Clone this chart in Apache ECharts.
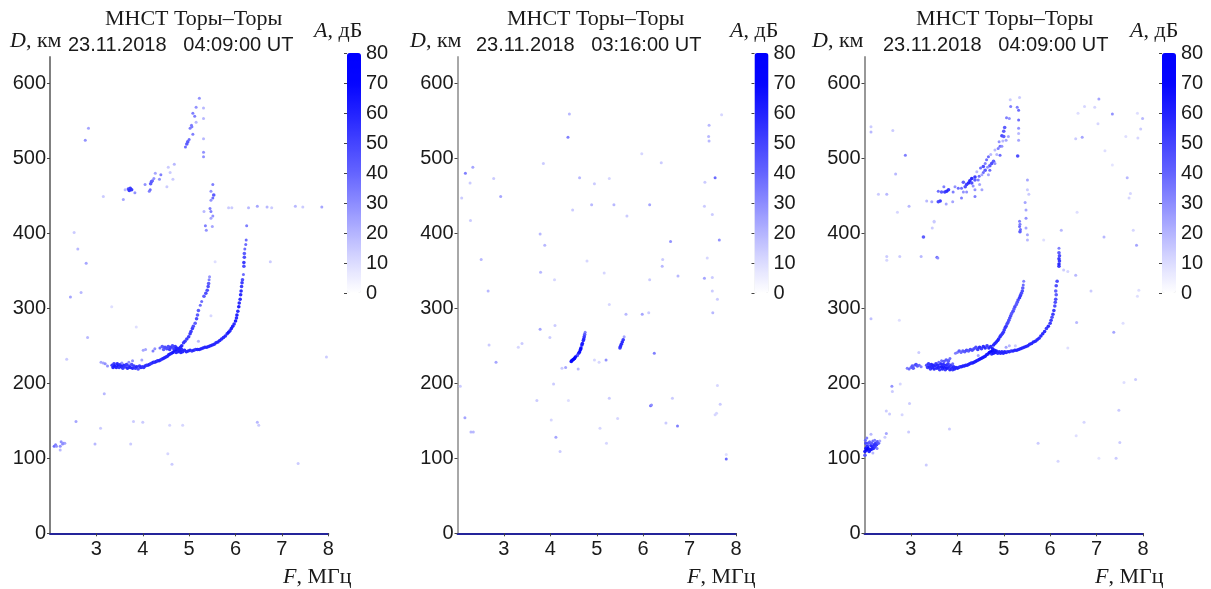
<!DOCTYPE html>
<html><head><meta charset="utf-8">
<style>html,body{margin:0;padding:0;background:#fff}#c{width:1203px;height:589px;overflow:hidden;filter:blur(0.55px)}</style>
<script src="https://cdn.jsdelivr.net/npm/echarts@6/dist/echarts.min.js"></script>
</head><body><div id="c"></div>
<script>
// Each point is [F (MHz), D (km), A (dB)].
var p1MainTrace=[[3.10,228,25],[3.15,227,25],[3.19,226,30],[3.24,223,30],[3.34,224,55],[3.36,221,60],[3.38,226,55],[3.40,223,65],[3.43,221,60],[3.45,226,60],[3.47,223,65],[3.49,221,55],[3.52,225,60],[3.54,222,60],[3.57,220,55],[3.59,224,60],[3.62,222,55],[3.65,225,55],[3.67,220,60],[3.70,223,55],[3.73,221,60],[3.76,225,50],[3.78,220,60],[3.81,223,55],[3.84,220,55],[3.87,222,60],[3.90,219,50],[3.93,223,55],[3.96,221,60],[3.99,222,55],[4.02,221,55],[4.05,223,60],[4.08,224,55],[4.11,224,55],[4.14,225,60],[4.17,226,55],[4.20,227,55],[4.23,228,60],[4.26,228,55],[4.29,229,60],[4.32,230,55],[4.35,230,60],[4.38,231,60],[4.41,232,55],[4.44,233,60],[4.47,234,60],[4.50,235,60],[4.53,236,60],[4.56,238,60],[4.59,239,65],[4.62,240,60],[4.65,241,65],[4.68,243,65],[4.70,244,65],[4.72,241,60],[4.74,245,65],[4.76,242,60],[4.78,246,65],[4.80,243,65],[4.82,241,60],[4.84,245,60],[4.86,242,60],[4.90,244,60],[4.94,242,60],[4.98,243,60],[5.02,244,60],[5.06,243,55],[5.10,244,60],[5.14,245,55],[5.18,245,60],[5.22,245,60],[5.26,246,60],[5.30,247,60],[5.34,248,60],[5.38,248,60],[5.42,249,60],[5.46,250,60],[5.50,251,60],[5.54,252,60],[5.58,254,60],[5.62,255,60],[5.66,257,60],[5.70,259,60],[5.74,261,60],[5.78,263,60],[5.82,266,60],[5.85,268,65],[5.88,270,60],[5.91,273,65],[5.94,276,65],[5.97,279,60],[6.00,283,65],[6.02,287,60],[6.03,291,65],[6.05,296,60],[6.07,302,65],[6.08,307,60],[6.10,312,60],[6.11,318,60],[6.12,323,60],[6.13,329,55],[6.14,334,55],[6.15,338,50],[6.17,345,40],[6.18,356,50],[6.18,361,55],[6.19,368,50],[6.19,373,45],[6.20,379,40],[6.22,385,40],[6.23,391,40],[6.24,410,35]];
var p1LeftTrace=[[4.77,245,60],[4.81,248,60],[4.84,250,60],[4.88,254,55],[4.91,256,55],[4.95,259,55],[4.99,262,55],[5.02,266,55],[5.04,269,55],[5.07,273,55],[5.09,276,50],[5.13,280,45],[5.16,286,50],[5.18,291,45],[5.20,297,45],[5.24,304,40],[5.27,309,40],[5.32,316,45],[5.36,320,50],[5.39,324,50],[5.41,329,50],[5.42,333,45],[5.43,338,35],[5.44,342,30]];
var p1UpperTrace=[[4.01,244,25],[4.06,245,25],[4.22,243,35],[4.26,246,30],[4.37,247,40],[4.42,249,45],[4.45,245,45],[4.48,248,50],[4.52,246,50],[4.55,249,50],[4.58,245,55],[4.61,248,55],[4.64,250,50],[4.67,246,55],[4.70,249,55],[4.73,247,60],[3.55,227,30],[3.70,228,30],[3.78,230,30],[3.98,231,25],[5.20,256,20]];
var p1SpreadF=[[5.22,580,30],[5.15,568,30],[5.31,567,20],[5.08,560,35],[5.12,556,35],[5.31,553,20],[5.15,548,20],[5.05,544,35],[5.02,540,35],[5.06,542,35],[5.08,532,35],[5.31,526,20],[4.97,522,45],[4.95,519,45],[4.92,515,40],[5.00,525,40],[5.31,508,30],[5.31,502,30],[4.68,492,20],[4.55,488,15],[4.59,481,15],[4.65,472,15],[4.52,462,15],[4.39,478,35],[4.36,472,30],[4.27,480,25],[4.24,473,30],[4.19,469,45],[4.17,466,45],[4.21,470,40],[4.05,465,30],[4.16,458,40],[4.14,456,35],[3.73,460,55],[3.76,458,55],[3.69,459,50],[3.71,457,55],[3.83,454,30],[3.62,458,20],[3.58,445,25],[3.15,449,15],[5.51,465,35],[5.47,456,30],[5.53,451,45],[5.51,447,40],[5.47,444,30],[5.45,433,35],[5.47,429,35],[5.32,429,20],[5.51,423,30],[5.47,420,25],[5.50,409,25],[5.35,410,35],[5.37,404,30]];
var p1Isolated=[[2.76,524,30],[2.83,540,25],[2.52,401,15],[2.60,379,20],[2.78,360,25],[2.67,321,20],[2.44,315,25],[5.85,434,15],[5.92,434,15],[6.28,434,20],[6.47,436,25],[6.68,435,20],[6.78,434,15],[7.29,436,20],[7.45,435,15],[7.86,435,25],[5.56,362,10],[6.75,362,15],[3.33,302,10],[2.81,261,20],[3.86,275,10],[5.47,290,12],[2.36,232,15],[3.17,186,20],[7.96,235,15],[2.56,149,25],[3.09,140,15],[3.80,149,15],[4.00,148,15],[4.58,144,12],[4.86,144,12],[6.47,148,20],[6.50,144,15],[2.97,119,20],[3.74,119,15],[4.54,106,12],[4.63,92,15],[7.35,93,15],[2.09,116,40],[2.12,118,35],[2.14,116,30],[2.22,116,30],[2.24,122,30],[2.29,120,30],[2.32,120,25],[2.22,111,20],[2.27,119,30]];

var p2TraceA=[[4.75,268,35],[4.74,265,45],[4.73,262,55],[4.72,259,60],[4.71,257,60],[4.69,253,65],[4.68,251,65],[4.66,247,70],[4.65,245,70],[4.63,242,70],[4.61,240,65],[4.58,237,50],[4.54,235,70],[4.52,233,75],[4.50,232,75],[4.48,231,75],[4.46,230,75],[4.45,229,70]];
var p2TraceB=[[5.59,262,25],[5.57,258,55],[5.55,255,60],[5.53,252,60],[5.51,249,60],[5.50,247,55]];
var p2Isolated=[[4.41,559,20],[4.38,528,35],[7.69,558,12],[7.42,544,20],[7.41,529,20],[7.42,523,20],[5.97,506,12],[6.39,494,15],[3.85,493,15],[2.33,488,25],[2.17,480,35],[2.27,467,15],[2.78,473,15],[4.63,474,20],[4.95,466,15],[5.27,473,12],[7.33,468,15],[7.55,474,40],[2.09,447,15],[2.93,449,25],[4.89,438,20],[5.37,438,20],[6.14,438,25],[7.32,436,15],[7.49,425,15],[4.48,431,15],[5.65,423,15],[2.28,417,15],[3.78,399,20],[3.88,384,20],[6.59,389,30],[7.64,391,30],[2.51,365,20],[4.79,363,12],[6.42,365,15],[7.38,367,12],[6.41,356,20],[3.79,348,20],[4.09,338,12],[5.16,347,12],[6.75,343,20],[6.14,338,15],[7.32,340,25],[7.49,341,15],[2.66,323,20],[7.49,323,15],[7.60,312,15],[5.27,305,12],[5.63,292,20],[5.98,292,25],[6.12,294,15],[7.50,294,20],[4.10,277,15],[3.78,272,25],[3.99,261,15],[2.68,251,15],[3.39,253,15],[3.31,248,12],[2.83,228,25],[6.24,240,35],[4.95,231,12],[5.05,228,12],[5.20,231,30],[4.33,221,25],[4.25,220,15],[4.60,219,20],[2.06,196,15],[4.07,199,15],[7.60,197,12],[3.71,177,15],[4.39,177,10],[5.27,180,15],[6.63,180,15],[6.16,170,40],[6.18,171,30],[7.66,172,15],[7.55,158,12],[7.58,160,12],[2.16,154,25],[4.02,151,12],[5.45,153,12],[6.49,147,15],[6.74,143,35],[5.07,140,12],[2.29,135,20],[2.34,135,20],[4.12,128,25],[5.21,120,12],[4.21,109,15],[7.79,99,40],[7.79,105,10]];

var p3MainTrace=[[2.92,220,35],[2.96,219,40],[3.00,221,40],[3.03,223,45],[3.05,220,45],[3.08,224,40],[3.11,225,50],[3.14,223,45],[3.18,224,40],[3.22,222,35],[3.34,224,50],[3.36,221,55],[3.38,226,55],[3.40,222,60],[3.42,219,55],[3.44,225,60],[3.46,221,60],[3.48,224,60],[3.50,219,60],[3.52,223,60],[3.54,226,55],[3.56,220,60],[3.58,224,60],[3.60,221,60],[3.62,218,55],[3.64,226,60],[3.66,222,65],[3.68,219,60],[3.70,225,60],[3.72,221,65],[3.74,218,55],[3.76,224,60],[3.78,220,65],[3.80,226,55],[3.82,222,60],[3.84,218,60],[3.86,224,55],[3.88,220,60],[3.90,218,55],[3.92,222,60],[3.94,219,60],[3.97,221,60],[4.00,220,60],[4.03,221,60],[4.06,222,55],[4.09,222,60],[4.12,223,60],[4.15,223,60],[4.18,224,60],[4.21,224,60],[4.24,225,60],[4.27,226,60],[4.30,227,60],[4.33,227,60],[4.36,228,65],[4.39,229,60],[4.42,230,65],[4.45,231,60],[4.48,232,65],[4.51,233,65],[4.54,234,65],[4.57,235,65],[4.60,236,65],[4.63,238,65],[4.66,239,65],[4.69,241,70],[4.72,242,70],[4.74,239,60],[4.76,243,70],[4.78,240,65],[4.80,244,65],[4.82,241,65],[4.84,243,65],[4.87,240,60],[4.90,242,60],[4.93,240,60],[4.96,242,60],[4.99,240,60],[5.02,242,60],[5.05,241,60],[5.08,242,55],[5.12,242,60],[5.16,243,55],[5.20,243,60],[5.24,244,60],[5.28,244,60],[5.32,245,60],[5.36,246,60],[5.40,247,60],[5.44,248,60],[5.48,249,60],[5.52,250,60],[5.56,252,60],[5.60,253,60],[5.64,255,60],[5.68,256,60],[5.72,258,60],[5.76,260,60],[5.80,263,60],[5.84,266,60],[5.88,269,60],[5.92,273,55],[5.96,276,60],[6.00,280,55],[6.02,284,55],[6.04,288,50],[6.06,292,55],[6.08,297,55],[6.10,303,50],[6.11,308,50],[6.12,312,50],[6.13,318,45],[6.12,323,45],[6.13,330,50],[6.15,336,50],[6.19,356,55],[6.19,359,60],[6.20,363,55],[6.19,366,55],[6.20,370,50],[6.19,374,45],[6.19,380,35],[6.24,404,20]];
var p3LeftTrace=[[4.78,251,60],[4.81,253,60],[4.84,255,60],[4.87,257,60],[4.89,259,60],[4.92,262,60],[4.94,264,55],[4.97,266,55],[4.99,268,55],[5.01,271,55],[5.03,274,55],[5.05,276,55],[5.07,279,50],[5.09,281,50],[5.11,284,50],[5.13,287,50],[5.15,290,50],[5.17,293,45],[5.20,296,50],[5.22,299,45],[5.24,302,50],[5.27,305,45],[5.29,308,45],[5.31,311,50],[5.34,314,55],[5.36,317,55],[5.38,320,50],[5.40,323,50],[5.41,327,45],[5.42,331,40],[5.43,336,35]];
var p3UpperTrace=[[3.96,240,35],[4.00,241,35],[4.04,243,45],[4.08,241,40],[4.12,243,45],[4.16,242,45],[4.20,244,50],[4.24,243,45],[4.28,245,50],[4.32,244,50],[4.36,246,50],[4.40,248,50],[4.44,245,55],[4.48,248,60],[4.52,246,55],[4.56,249,60],[4.60,247,60],[4.64,250,55],[4.68,247,60],[4.72,249,60],[4.76,246,65],[3.60,228,40],[3.66,230,40],[3.71,229,45],[3.76,231,45],[3.81,230,45],[3.84,233,40],[3.90,226,40],[5.05,248,25],[5.12,250,20],[5.25,250,15],[4.45,237,25]];
var p3SpreadF=[[5.14,578,15],[5.15,569,35],[5.06,554,35],[5.12,553,30],[5.02,541,45],[5.00,536,45],[4.96,530,50],[5.00,529,45],[5.10,529,25],[5.05,524,25],[4.92,516,40],[4.88,513,35],[4.96,516,30],[4.81,511,20],[4.92,504,40],[4.67,502,40],[4.63,498,40],[4.78,496,45],[4.74,493,50],[4.81,493,30],[4.60,493,35],[4.56,489,50],[4.60,484,45],[4.56,481,40],[4.70,484,40],[4.67,478,25],[4.42,482,20],[4.53,478,25],[4.38,475,55],[4.31,473,60],[4.27,470,60],[4.24,467,60],[4.20,465,55],[4.17,462,50],[4.31,467,50],[4.38,471,45],[4.45,471,35],[4.13,468,45],[4.09,460,40],[4.02,460,40],[4.13,455,30],[4.38,458,30],[4.53,458,25],[4.38,449,35],[4.20,455,30],[4.09,447,35],[3.95,462,30],[3.91,455,35],[3.81,458,55],[3.77,456,60],[3.73,455,55],[3.66,455,45],[3.59,456,40],[3.71,462,35],[3.63,443,55],[3.59,442,50],[3.76,439,25],[3.90,442,25],[3.45,442,25],[3.34,443,20],[3.50,415,15],[3.46,407,15],[3.27,395,45],[4.50,487,40],[4.47,476,40],[4.34,463,30],[4.48,465,25],[4.70,490,45],[4.65,488,30],[4.85,505,20],[4.90,522,30],[4.98,523,20],[4.72,505,20],[5.34,581,15],[5.29,568,35],[5.32,564,40],[5.32,551,40],[5.32,540,30],[5.32,533,20],[5.32,524,25],[5.30,503,50],[5.51,471,25],[5.51,458,15],[5.54,452,15],[5.46,441,25],[5.48,431,25],[5.48,420,30],[5.34,416,35],[5.35,412,35],[5.34,409,40],[5.36,405,40],[5.35,402,45],[5.48,407,25],[5.51,398,25],[5.51,391,20]];
var p3Cluster=[[2.01,109,65],[2.03,113,65],[2.05,111,70],[2.06,116,60],[2.08,113,70],[2.10,109,60],[2.12,111,65],[2.14,117,60],[2.15,112,65],[2.17,115,60],[2.19,113,60],[2.21,118,60],[2.23,115,55],[2.24,120,55],[2.26,118,55],[2.28,122,45],[2.30,120,45],[2.27,113,35],[2.15,120,45],[2.11,122,40],[2.08,120,45],[2.03,120,50],[2.02,124,40],[2.05,127,35],[2.18,123,40],[2.14,132,20],[2.22,124,35],[2.33,123,25],[2.47,133,25],[2.44,128,15],[2.18,107,20],[2.01,104,45]];
var p3Isolated=[[2.14,542,15],[2.14,535,20],[2.61,537,15],[2.88,504,35],[2.67,479,20],[2.30,452,15],[2.48,452,20],[2.71,428,12],[2.96,436,20],[3.50,416,15],[2.48,369,15],[2.48,364,12],[2.76,369,15],[3.22,369,20],[3.56,368,40],[3.58,367,30],[7.05,579,25],[6.74,569,12],[6.96,568,12],[6.60,560,10],[7.34,559,30],[7.03,546,12],[6.55,526,15],[6.69,528,25],[7.18,510,10],[7.34,491,8],[7.66,474,20],[7.73,453,12],[7.70,447,12],[6.58,428,10],[7.79,404,12],[7.16,395,20],[5.86,391,10],[7.86,384,25],[7.63,529,10],[7.88,560,10],[7.99,553,20],[7.95,539,15],[7.89,527,12],[6.29,351,15],[6.38,349,12],[6.55,344,20],[6.88,323,15],[7.91,324,10],[7.88,316,10],[2.14,286,18],[2.75,284,10],[3.17,241,15],[2.59,196,30],[2.60,189,15],[2.77,199,12],[2.97,173,15],[2.47,163,15],[2.54,159,15],[2.81,158,12],[2.95,135,15],[3.83,139,15],[3.33,91,15],[5.74,120,15],[6.17,96,12],[6.73,148,12],[6.56,130,10],[6.38,247,10],[6.57,281,20],[7.37,268,25],[7.57,280,10],[7.84,205,15],[7.59,201,10],[7.48,164,15],[7.50,121,15],[7.42,100,15],[7.05,100,8]];

var chartTitle='МНСТ Торы–Торы';
var dateLabels=['23.11.2018   04:09:00 UT','23.11.2018   03:16:00 UT','23.11.2018   04:09:00 UT'];
var yTicks=[0,100,200,300,400,500,600];
var xTicks=[3,4,5,6,7,8];
var barTicks=[0,10,20,30,40,50,60,70,80];

var panelData=[
 p1MainTrace.concat(p1LeftTrace,p1UpperTrace,p1SpreadF,p1Isolated),
 p2TraceA.concat(p2TraceB,p2Isolated),
 p3MainTrace.concat(p3LeftTrace,p3UpperTrace,p3SpreadF,p3Cluster,p3Isolated)
];
var layout=[
 {l:50,r:328.3,bar:347,title:194,dateX:68,dX:10,aX:314,fX:283,yCol:'#808080'},
 {l:457.5,r:736,bar:754.5,title:596,dateX:476,dX:410,aX:730,fX:687,yCol:'#a8a8a8'},
 {l:864.5,r:1143,bar:1162,title:1005,dateX:883,dX:812,aX:1130,fX:1095,yCol:'#989898'}
];
var grids=[],xAxes=[],yAxes=[],series=[],vms=[],gfx=[];
var txt='#1a1a1a';
function label(x,y,text,font){return {type:'text',left:x,top:y,style:{text:text,font:font,fill:txt}};}
function rich(x,y,it,rest){return {type:'text',left:x,top:y,style:{
  text:'{i|'+it+'}{n|'+rest+'}',fill:txt,
  rich:{i:{font:'italic 22px "Liberation Serif"',fill:txt},n:{font:'22px "Liberation Serif"',fill:txt}}}};}
layout.forEach(function(p,i){
  grids.push({left:p.l,top:57,width:p.r-p.l,height:476.3});
  xAxes.push({type:'value',gridIndex:i*2,min:2,max:8,interval:1,splitLine:{show:false},
    axisLine:{onZero:false,lineStyle:{color:'#24249a',width:2}},
    axisTick:{length:3,lineStyle:{color:'#444'},customValues:xTicks},
    axisLabel:{customValues:xTicks,fontSize:20,fontFamily:'Liberation Sans',color:txt,margin:6}});
  yAxes.push({type:'value',gridIndex:i*2,min:0,max:635,interval:100,splitLine:{show:false},
    axisLine:{show:true,onZero:false,lineStyle:{color:p.yCol,width:2}},
    axisTick:{length:3,lineStyle:{color:'#444'},customValues:yTicks},
    axisLabel:{customValues:yTicks,fontSize:20,fontFamily:'Liberation Sans',color:txt,margin:4}});
  grids.push({left:p.bar,top:53,width:14,height:240});
  xAxes.push({type:'value',gridIndex:i*2+1,min:0,max:1,show:false});
  yAxes.push({type:'value',gridIndex:i*2+1,min:0,max:80,interval:10,splitLine:{show:false},
    axisLine:{show:false},axisTick:{length:3,lineStyle:{color:'#444'},customValues:barTicks},
    axisLabel:{customValues:barTicks,fontSize:20,fontFamily:'Liberation Sans',color:txt,align:'left',margin:-19,padding:[4,0,0,0]}});
  series.push({type:'scatter',xAxisIndex:i*2,yAxisIndex:i*2,data:panelData[i],symbol:'circle',
    symbolSize:function(v){return v[2]>=45?3.6:3;},
    encode:{x:0,y:1},itemStyle:{opacity:0.95},silent:true,z:3});
  vms.push({type:'continuous',seriesIndex:i,dimension:2,min:0,max:80,left:p.bar,top:53,itemWidth:14,itemHeight:240,
    padding:0,calculable:false,text:null,showLabel:false,realtime:false,
    inRange:{color:['#ffffff','#dcdcff','#b4b4ff','#8c8cff','#6464ff','#4444ff','#2222ff','#0505ff','#0000ff']},
    textStyle:{fontSize:0}});
  gfx.push(label(p.title-89,8,chartTitle,'22px "Liberation Serif"'));
  gfx.push(label(p.dateX,35,dateLabels[i],'20px "Liberation Sans"'));
  gfx.push(rich(p.dX,30,'D',', км'));
  gfx.push(rich(p.aX,20,'A',', дБ'));
  gfx.push(rich(p.fX,566,'F',', МГц'));
});
var chart=echarts.init(document.getElementById('c'),null,{renderer:'canvas'});
chart.setOption({animation:false,backgroundColor:'#fff',grid:grids,xAxis:xAxes,yAxis:yAxes,series:series,visualMap:vms,graphic:gfx});
</script></body></html>
